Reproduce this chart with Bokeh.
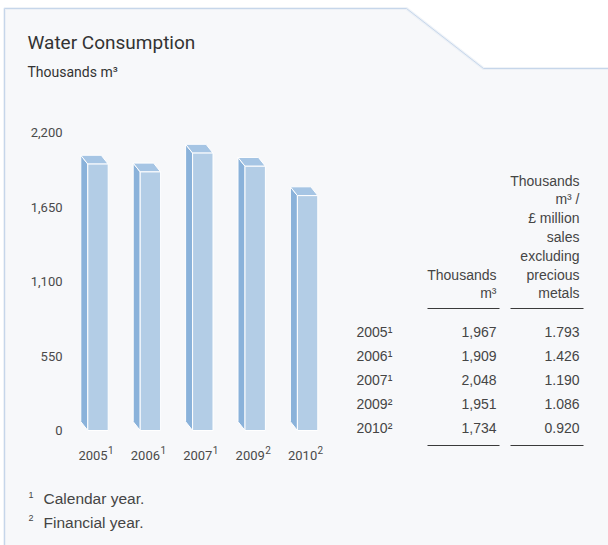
from bokeh.plotting import figure
from bokeh.models import Range1d
from bokeh.core.properties import value
from bokeh.embed import file_html
from bokeh.resources import INLINE

# ---- data ----
years = ["2005", "2006", "2007", "2009", "2010"]
notes = [1, 1, 1, 2, 2]
consumption = [1967, 1909, 2048, 1951, 1734]          # thousands m3
intensity = [1.793, 1.426, 1.190, 1.086, 0.920]       # thousands m3 / £m sales
y_ticks = [0, 550, 1100, 1650, 2200]
footnotes = ["Calendar year.", "Financial year."]
col1_header = ["Thousands", "m³"]
col2_header = ["Thousands", "m³ /", "£ million", "sales", "excluding", "precious", "metals"]

SUP = {1: "¹", 2: "²"}

# ---- layout constants (pixels) ----
W, H = 608, 545
BASE_PX = 430.0        # y pixel of value 0
TOP_PX = 132.0         # y pixel of value 2200
FIRST_PX = 97.5        # centre of first bar front face
PITCH = 52.4           # bar pitch
FACE_W = 20.4          # front face width
DEPTH_X = 7.0          # 3d offset to the left
DEPTH_Y = 8.8          # 3d offset upward

K = (BASE_PX - TOP_PX) / y_ticks[-1]   # px per unit

p = figure(width=W, height=H, output_backend="svg", toolbar_location=None,
           x_range=Range1d(0, W), y_range=Range1d(H, 0),
           x_axis_type=None, y_axis_type=None, min_border=0,
           outline_line_color=None, background_fill_color="white",
           border_fill_color="white")
p.grid.visible = False
p.extra_x_ranges = {"bx": Range1d(start=-FIRST_PX / PITCH, end=(W - FIRST_PX) / PITCH)}
p.extra_y_ranges = {"by": Range1d(start=-(H - BASE_PX) / K, end=BASE_PX / K)}

# ---- panel background with cut corner ----
px = [4, 4, 406, 483, W + 2, W + 2]
py = [H + 2, 8, 8, 68, 68, H + 2]
p.patch(px, py, fill_color="#f7f8fa", line_color="#e4ebf4", line_width=3, line_alpha=0.6)
p.line([4, 4, 406, 483, W + 2], [H + 2, 8, 8, 68, 68], line_color="#c6d6ea", line_width=1)

# ---- title ----
TXT = "#333333"
p.text(x=[27], y=[42], text=["Water Consumption"], text_font=value("Roboto"),
       text_font_size="19px", text_color=TXT, text_baseline="alphabetic")
p.text(x=[27], y=[71], text=["Thousands m³"], text_font=value("Roboto"),
       text_font_size="14px", text_color=TXT, text_baseline="alphabetic")

# ---- 3D bars ----
hw = FACE_W / 2 / PITCH
dx = DEPTH_X / PITCH
dy = DEPTH_Y / K
idx = list(range(len(years)))
side_xs, side_ys, top_xs, top_ys = [], [], [], []
for i, v in zip(idx, consumption):
    l, r = i - hw, i + hw
    side_xs.append([l, l, l - dx, l - dx])
    side_ys.append([0, v, v + dy, dy])
    top_xs.append([l, r, r - dx, l - dx])
    top_ys.append([v, v, v + dy, v + dy])

p.patches(side_xs, side_ys, x_range_name="bx", y_range_name="by",
          fill_color="#8ab2da", line_color="white", line_width=1)
p.patches(top_xs, top_ys, x_range_name="bx", y_range_name="by",
          fill_color="#a6c5e4", line_color="white", line_width=1)
p.quad(left=[i - hw for i in idx], right=[i + hw for i in idx],
       bottom=[0] * len(idx), top=consumption, x_range_name="bx", y_range_name="by",
       fill_color="#b3cde6", line_color="white", line_width=1)

# ---- y tick labels ----
p.text(x=[62] * len(y_ticks), y=y_ticks, text=[f"{t:,}" for t in y_ticks],
       y_range_name="by", text_font=value("Roboto"), text_font_size="13px",
       text_color="#4a4a4a", text_align="right", text_baseline="middle")

# ---- x labels ----
p.text(x=idx, y=[455] * len(idx), text=years, x_range_name="bx",
       text_font=value("Roboto"), text_font_size="13px", text_color="#4a4a4a",
       text_align="center", text_baseline="alphabetic", x_offset=-5)
p.text(x=idx, y=[449] * len(idx), text=[str(n) for n in notes], x_range_name="bx",
       text_font=value("Roboto"), text_font_size="10px", text_color="#4a4a4a",
       text_align="left", text_baseline="alphabetic", x_offset=10)

# ---- table ----
C1_R, C2_R, YEAR_L = 496, 579, 356
LH = 18.8
ROW0, ROWH = 331, 24
TFONT = value("Liberation Sans")
TCOL = "#454545"
n2 = len(col2_header)
p.text(x=[C2_R] * n2, y=[180 + LH * k for k in range(n2)], text=col2_header,
       text_font=TFONT, text_font_size="14px", text_color=TCOL,
       text_align="right", text_baseline="middle")
n1 = len(col1_header)
p.text(x=[C1_R] * n1, y=[180 + LH * (n2 - n1 + k) for k in range(n1)], text=col1_header,
       text_font=TFONT, text_font_size="14px", text_color=TCOL,
       text_align="right", text_baseline="middle")

for yy in (308, 445):
    p.line([427, 499], [yy, yy], line_color="#3a3a3a", line_width=1.2)
    p.line([510, 583], [yy, yy], line_color="#3a3a3a", line_width=1.2)

rows_y = [ROW0 + ROWH * i for i in idx]
p.text(x=[YEAR_L] * len(idx), y=rows_y, text=[f"{y}{SUP[n]}" for y, n in zip(years, notes)],
       text_font=TFONT, text_font_size="14px", text_color=TCOL,
       text_align="left", text_baseline="middle")
p.text(x=[C1_R] * len(idx), y=rows_y, text=[f"{v:,}" for v in consumption],
       text_font=TFONT, text_font_size="14px", text_color=TCOL,
       text_align="right", text_baseline="middle")
p.text(x=[C2_R] * len(idx), y=rows_y, text=[f"{v:.3f}" for v in intensity],
       text_font=TFONT, text_font_size="14px", text_color=TCOL,
       text_align="right", text_baseline="middle")

# ---- footnotes ----
fy = [498 + 23.5 * k for k in range(len(footnotes))]
p.text(x=[28] * len(footnotes), y=[y - 4 for y in fy], text=[str(k + 1) for k in range(len(footnotes))],
       text_font=TFONT, text_font_size="9px", text_color=TCOL,
       text_align="left", text_baseline="middle")
p.text(x=[43] * len(footnotes), y=fy, text=footnotes,
       text_font=TFONT, text_font_size="15.5px", text_color=TCOL,
       text_align="left", text_baseline="middle")

open("out.html", "w").write(file_html(p, INLINE))
